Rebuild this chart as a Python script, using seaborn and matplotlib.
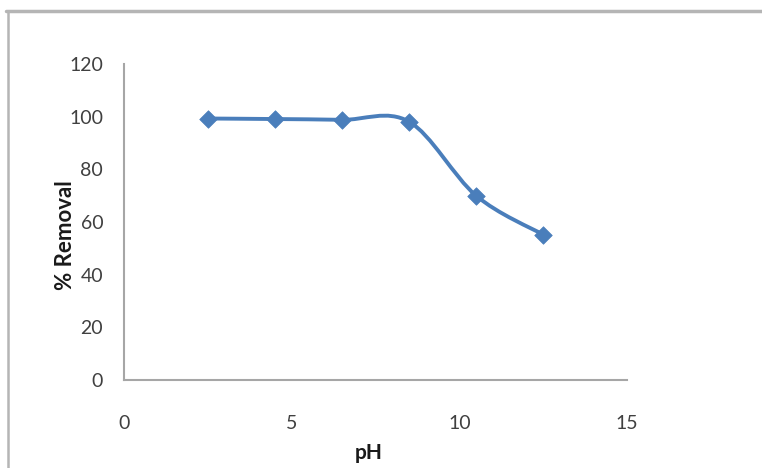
import numpy as np
import pandas as pd
import matplotlib
matplotlib.use("Agg")
import matplotlib.pyplot as plt
import seaborn as sns
from matplotlib.path import Path
from matplotlib.patches import PathPatch
from matplotlib.lines import Line2D

ph = [2.5, 4.5, 6.5, 8.5, 10.5, 12.5]
removal = [99.3, 99.1, 98.8, 98.1, 70.0, 55.2]
x_ticks = [0, 5, 10, 15]
y_ticks = [0, 20, 40, 60, 80, 100, 120]

sns.set_theme(style="white")
plt.rcParams['font.family'] = ['Lato', 'DejaVu Sans']

W, H = 762, 468
fig = plt.figure(figsize=(W / 100, H / 100), dpi=100)
ax = fig.add_axes([124 / W, 1 - 380 / H, (627 - 124) / W, (380 - 64) / H])

df = pd.DataFrame({"pH": ph, "removal": removal})
color = "#4a7ebb"

# smoothed line (Excel-like Catmull-Rom Bezier through the data)
P = np.column_stack([ph, removal])
n = len(P)
verts = [tuple(P[0])]
codes = [Path.MOVETO]
for i in range(n - 1):
    p0 = P[i - 1] if i > 0 else P[i]
    p1 = P[i]
    p2 = P[i + 1]
    p3 = P[i + 2] if i + 2 < n else P[i + 1]
    c1 = p1 + (p2 - p0) / 6.0
    c2 = p2 - (p3 - p1) / 6.0
    verts += [tuple(c1), tuple(c2), tuple(p2)]
    codes += [Path.CURVE4] * 3
ax.add_patch(PathPatch(Path(verts, codes), facecolor="none", edgecolor=color,
                       lw=2.8, capstyle="round", joinstyle="round", zorder=2))

sns.scatterplot(data=df, x="pH", y="removal", marker="D", s=80, color=color,
                edgecolor=color, linewidth=0.5, ax=ax, zorder=3)

ax.set_xlim(0, 15)
ax.set_ylim(0, 120)
ax.set_xticks(x_ticks)
ax.set_yticks(y_ticks)
ax.set_xticklabels([str(t) for t in x_ticks], fontsize=14, color="#404040")
ax.set_yticklabels([str(t) for t in y_ticks], fontsize=14, color="#404040")
ax.tick_params(axis="x", length=0, pad=25)
ax.tick_params(axis="y", length=0, pad=15)
ax.set_xlabel("pH", fontsize=15, fontweight="bold", color="#1a1a1a")
ax.set_ylabel("% Removal", fontsize=16, fontweight="bold", color="#1a1a1a")
ax.xaxis.set_label_coords(0.486, (380 - 453) / 316)
ax.xaxis.label.set_va("center")
ax.yaxis.set_label_coords((65 - 124) / 503, (380 - 235) / 316)
ax.yaxis.label.set_va("center")

for s in ["top", "right"]:
    ax.spines[s].set_visible(False)
for s in ["left", "bottom"]:
    ax.spines[s].set_color("#a6a6a6")
    ax.spines[s].set_linewidth(1.5)
ax.grid(False)

# outer chart frame (top and left edges visible)
fig.add_artist(Line2D([6 / W, 1], [1 - 10.5 / H, 1 - 10.5 / H], transform=fig.transFigure,
                      color="#b5b5b5", lw=2.5))
fig.add_artist(Line2D([7.5 / W, 7.5 / W], [0, 1 - 10.5 / H], transform=fig.transFigure,
                      color="#b5b5b5", lw=1.8))

fig.savefig("out.png", dpi=100)
